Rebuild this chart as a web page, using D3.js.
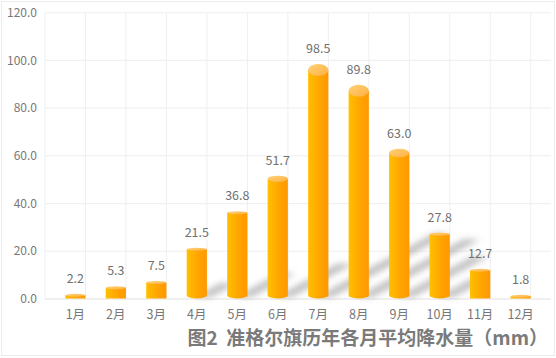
<!DOCTYPE html>
<html><head><meta charset="utf-8">
<script src="https://cdn.jsdelivr.net/npm/d3@7"></script>
<style>
html,body{margin:0;padding:0;background:#fff;}
svg{display:block;font-family:"Noto Sans CJK SC","Noto Sans",sans-serif;}
</style></head>
<body>
<svg id="c" width="556" height="358"></svg>
<script>
const months = ["1月","2月","3月","4月","5月","6月","7月","8月","9月","10月","11月","12月"];
const rainfall = [2.2,5.3,7.5,21.5,36.8,51.7,98.5,89.8,63.0,27.8,12.7,1.8];
const yTicks = [0,20,40,60,80,100,120];
const title = "图2\u00A0\u00A0准格尔旗历年各月平均降水量（mm）";

(function(){
const svg = d3.select("#c");
const W = 556, H = 358;
const pL = 45, pR = 551, pT = 12.7, pB = 299;

svg.append("rect").attr("x",1.5).attr("y",1.5).attr("width",W-3).attr("height",H-4)
  .attr("fill","#fff").attr("stroke","#ececec");

const x = d3.scaleBand().domain(months).range([pL,pR]).padding(0.5);
const y = d3.scaleLinear().domain([0,120]).range([pB,pT]);

const defs = svg.append("defs");
const g1 = defs.append("linearGradient").attr("id","body").attr("x1","0").attr("x2","1").attr("y1","0").attr("y2","0");
g1.append("stop").attr("offset","0").attr("stop-color","#FFC000");
g1.append("stop").attr("offset","0.55").attr("stop-color","#FFA500");
g1.append("stop").attr("offset","1").attr("stop-color","#FF9800");
const g2 = defs.append("linearGradient").attr("id","cap").attr("x1","0").attr("x2","1").attr("y1","0").attr("y2","1");
g2.append("stop").attr("offset","0").attr("stop-color","#FFD27A");
g2.append("stop").attr("offset","1").attr("stop-color","#FFB040");
const f = defs.append("filter").attr("id","blur").attr("x","-50%").attr("y","-50%").attr("width","200%").attr("height","200%");
f.append("feGaussianBlur").attr("stdDeviation",3.2);

// grid
const grid = svg.append("g");
grid.selectAll("line.h").data(yTicks).join("line")
  .attr("x1",pL).attr("x2",pR).attr("y1",d=>y(d)).attr("y2",d=>y(d))
  .attr("stroke",d=>d===0?"#e0e0e0":"#efefef").attr("stroke-width",1);
const step = x.step();
grid.selectAll("line.v").data(d3.range(months.length+1)).join("line")
  .attr("x1",i=>pL+i*step).attr("x2",i=>pL+i*step).attr("y1",pT).attr("y2",pB)
  .attr("stroke","#efefef");

// y labels
svg.append("g").selectAll("text").data(yTicks).join("text")
  .attr("x",37).attr("y",d=>y(d)).attr("dy","0.35em").attr("text-anchor","end")
  .attr("font-size",12).attr("fill","#777").text(d=>d.toFixed(1));

// x labels
svg.append("g").selectAll("text").data(months).join("text")
  .attr("x",d=>x(d)+x.bandwidth()/2).attr("y",315).attr("dy","0.35em").attr("text-anchor","middle")
  .attr("font-size",12.5).attr("fill","#777").text(d=>d);

const data = months.map((m,i)=>({m, v:rainfall[i]}));
const bw = x.bandwidth();
const capRy = v => Math.min(6, 1.5 + Math.max(0, v-36)*0.105);
const botRy = v => v > 20 ? 3 : 0;

// shadows
svg.append("g").attr("filter","url(#blur)").selectAll("path").data(data.filter(d=>d.v>15)).join("path")
  .attr("d",d=>{
    const xl = x(d.m)+bw*0.4, xr = x(d.m)+bw+4, b = pB-2;
    const L = (y(0)-y(d.v));
    const dx = L*0.5, dy = L*0.27;
    return `M${xl},${b} L${xr},${b} L${xr+dx},${b-dy} L${xl+dx},${b-dy} Z`;
  })
  .attr("fill","#8a8a8a").attr("opacity",0.55);

// bars
const bars = svg.append("g").selectAll("g").data(data).join("g");
bars.append("path").attr("d",d=>{
  const x0 = x(d.m), x1 = x0+bw, rx = bw/2;
  const ct = y(d.v) + capRy(d.v);
  const rb = botRy(d.v);
  const yb = pB - 0.5 - rb;
  if (rb>0) {
    return `M${x0},${ct} L${x0},${yb} A${rx},${rb} 0 0 0 ${x1},${yb} L${x1},${ct} Z`;
  }
  return `M${x0},${ct} L${x0},${pB-0.5} L${x1},${pB-0.5} L${x1},${ct} Z`;
}).attr("fill","url(#body)");
bars.append("ellipse")
  .attr("cx",d=>x(d.m)+bw/2).attr("cy",d=>y(d.v)+capRy(d.v))
  .attr("rx",bw/2).attr("ry",d=>capRy(d.v))
  .attr("fill","url(#cap)");

// value labels
svg.append("g").selectAll("text").data(data).join("text")
  .attr("x",d=>x(d.m)+bw/2).attr("y",d=>y(d.v)-11).attr("text-anchor","middle")
  .attr("font-size",12.5).attr("fill","#707070").text(d=>d.v.toFixed(1));

// title
svg.append("text").attr("x",548).attr("y",345).attr("text-anchor","end")
  .attr("font-size",19).attr("font-weight","bold").attr("fill","#7a7a7a").text(title);
})();
</script>
</body></html>
